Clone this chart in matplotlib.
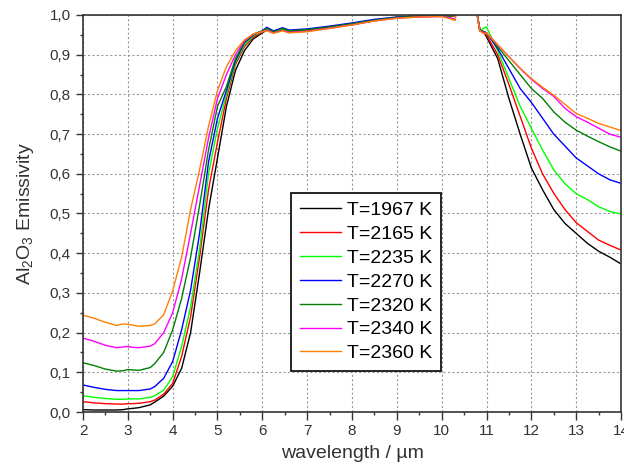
import matplotlib.pyplot as plt
from matplotlib.ticker import MultipleLocator, FuncFormatter

plt.rcParams['font.family'] = ['Liberation Sans', 'DejaVu Sans']
plt.rcParams['mathtext.fontset'] = 'custom'
plt.rcParams['mathtext.rm'] = 'Liberation Sans'
plt.rcParams['mathtext.it'] = 'Liberation Sans:italic'

# wavelength, um (values above 1 lie outside the plotted range)
wavelength = [2.0, 2.25, 2.5, 2.75, 2.9, 3.0, 3.1, 3.25, 3.5,
              3.6, 3.8, 4.0, 4.2, 4.4, 4.6, 4.8, 5.0, 5.2, 5.4, 5.6, 5.8, 6.0,
              6.1, 6.25, 6.45, 6.6, 7.0, 7.5, 8.0, 8.5, 9.0, 9.5, 10.0, 10.2, 10.3, 10.35,
              10.75, 10.85, 10.95, 11.0, 11.25, 11.5, 11.75, 12.0, 12.25, 12.5, 12.75,
              13.0, 13.25, 13.5, 13.75, 14.0]

t1967 = [0.006, 0.005, 0.005, 0.005, 0.006, 0.008, 0.009, 0.011, 0.018,
         0.025, 0.040, 0.065, 0.11, 0.20, 0.35, 0.51, 0.64, 0.77, 0.86, 0.91, 0.94, 0.955,
         0.962, 0.956, 0.963, 0.958, 0.962, 0.969, 0.977, 0.987, 0.994, 0.997, 0.998, 0.997, 1.0, 1.03,
         1.03, 0.965, 0.955, 0.945, 0.89, 0.79, 0.70, 0.615, 0.56, 0.51, 0.475,
         0.45, 0.425, 0.405, 0.39, 0.373]
t2165 = [0.026, 0.023, 0.021, 0.020, 0.020, 0.021, 0.021, 0.022, 0.026,
         0.030, 0.045, 0.072, 0.14, 0.24, 0.39, 0.56, 0.68, 0.79, 0.875, 0.92, 0.945, 0.957,
         0.962, 0.956, 0.962, 0.957, 0.961, 0.968, 0.976, 0.986, 0.993, 0.996, 0.997, 0.996, 0.998, 1.03,
         1.03, 0.965, 0.955, 0.95, 0.90, 0.825, 0.745, 0.665, 0.60, 0.551, 0.51,
         0.477, 0.455, 0.433, 0.42, 0.408]
t2235 = [0.041, 0.037, 0.034, 0.032, 0.032, 0.033, 0.033, 0.033, 0.037,
         0.041, 0.055, 0.089, 0.165, 0.265, 0.41, 0.60, 0.715, 0.80, 0.88, 0.925, 0.948, 0.958,
         0.964, 0.958, 0.965, 0.96, 0.963, 0.97, 0.978, 0.987, 0.994, 0.997, 0.998, 0.997, 1.0, 1.03,
         1.03, 0.96, 0.968, 0.97, 0.91, 0.84, 0.77, 0.715, 0.66, 0.61, 0.575,
         0.55, 0.535, 0.517, 0.505, 0.499]
t2270 = [0.068, 0.062, 0.057, 0.054, 0.054, 0.054, 0.054, 0.054, 0.058,
         0.064, 0.085, 0.127, 0.207, 0.307, 0.45, 0.63, 0.74, 0.81, 0.885, 0.93, 0.95, 0.96,
         0.969, 0.96, 0.968, 0.962, 0.965, 0.972, 0.98, 0.989, 0.995, 0.998, 0.999, 0.999, 1.0, 1.03,
         1.03, 0.96, 0.958, 0.955, 0.915, 0.865, 0.815, 0.78, 0.74, 0.70, 0.67,
         0.64, 0.62, 0.60, 0.585, 0.576]
t2320 = [0.124, 0.117, 0.108, 0.103, 0.104, 0.107, 0.106, 0.105, 0.112,
         0.122, 0.15, 0.207, 0.286, 0.39, 0.52, 0.66, 0.77, 0.82, 0.89, 0.932, 0.952, 0.96,
         0.966, 0.958, 0.966, 0.96, 0.963, 0.97, 0.978, 0.987, 0.994, 0.997, 0.998, 0.997, 1.0, 1.03,
         1.03, 0.96, 0.958, 0.955, 0.92, 0.885, 0.85, 0.815, 0.79, 0.756, 0.73,
         0.71, 0.695, 0.681, 0.668, 0.657]
t2340 = [0.186, 0.178, 0.168, 0.162, 0.164, 0.165, 0.163, 0.162, 0.166,
         0.172, 0.20, 0.25, 0.335, 0.45, 0.57, 0.69, 0.79, 0.85, 0.90, 0.935, 0.952, 0.958,
         0.962, 0.955, 0.961, 0.956, 0.959, 0.967, 0.975, 0.985, 0.992, 0.995, 0.996, 0.993, 0.989, 1.03,
         1.03, 0.96, 0.955, 0.955, 0.925, 0.895, 0.865, 0.838, 0.815, 0.795, 0.765,
         0.744, 0.73, 0.715, 0.70, 0.692]
t2360 = [0.244, 0.236, 0.226, 0.218, 0.222, 0.221, 0.219, 0.216, 0.218,
         0.222, 0.245, 0.305, 0.39, 0.51, 0.61, 0.72, 0.81, 0.87, 0.91, 0.937, 0.952, 0.958,
         0.96, 0.954, 0.96, 0.955, 0.958, 0.966, 0.975, 0.985, 0.992, 0.995, 0.996, 0.99, 0.986, 1.03,
         1.03, 0.96, 0.952, 0.955, 0.925, 0.895, 0.866, 0.84, 0.818, 0.798, 0.775,
         0.752, 0.74, 0.727, 0.718, 0.709]

series = [t1967, t2165, t2235, t2270, t2320, t2340, t2360]
labels = ['T=1967 K', 'T=2165 K', 'T=2235 K', 'T=2270 K', 'T=2320 K', 'T=2340 K', 'T=2360 K']
colors = ['#000000', '#ff0000', '#00ff00', '#0000ff', '#008000', '#ff00ff', '#ff8000']

fig = plt.figure(figsize=(6.24, 4.65), dpi=100)
ax = fig.add_axes([83 / 624, 1 - 412 / 465, 538 / 624, 397 / 465])

for vals, lab, col in zip(series, labels, colors):
    ax.plot(wavelength, vals, color=col, lw=1.0, label=lab)

ax.set_xlim(2, 14)
ax.set_ylim(0, 1)
ax.xaxis.set_major_locator(MultipleLocator(1))
ax.xaxis.set_minor_locator(MultipleLocator(0.5))
ax.yaxis.set_major_locator(MultipleLocator(0.1))
ax.yaxis.set_minor_locator(MultipleLocator(0.05))
ax.yaxis.set_major_formatter(FuncFormatter(lambda v, p: f'{v:.1f}'.replace('.', ',')))

ax.grid(True, which='major', color='#9a9a9a', linestyle=(0, (2, 2)), linewidth=0.8)
ax.tick_params(which='major', direction='out', length=5.4, width=1, labelsize=11,
               color='#333333', labelcolor='#333333')
ax.tick_params(which='minor', direction='out', length=2.4, width=1, color='#333333')
for s in ax.spines.values():
    s.set_linewidth(1.2)
    s.set_color('#333333')

ax.set_xlabel('wavelength / µm', fontsize=14, color='#333333', labelpad=5)
ax.set_ylabel('Al$_2$O$_3$ Emissivity', fontsize=14, color='#333333', labelpad=10)

leg = ax.legend(loc='upper left', bbox_to_anchor=(0.387, 0.552), borderaxespad=0,
                fancybox=False, edgecolor='black', framealpha=1, fontsize=14,
                handlelength=2.1, handletextpad=0.3, labelspacing=0.32, borderpad=0.45)
leg.get_frame().set_linewidth(1.2)

fig.savefig('out.png', dpi=100)
